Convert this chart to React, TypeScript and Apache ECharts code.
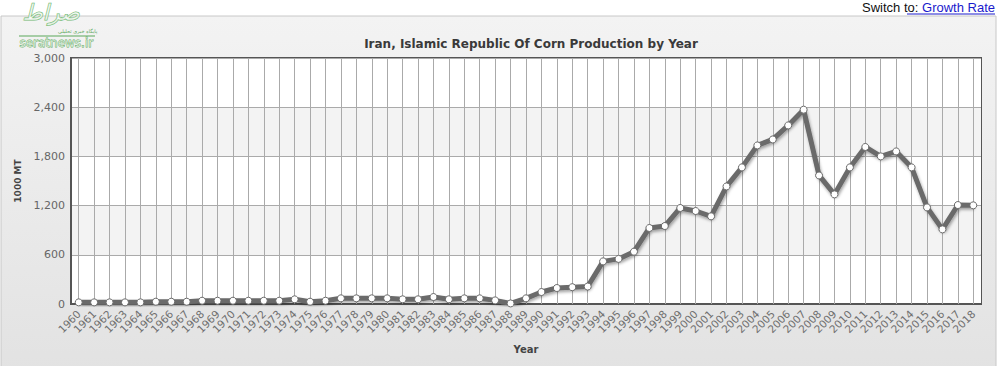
import React, { useEffect, useRef } from "react";
import * as echarts from "echarts";

const years: string[] = [];
for (let y = 1960; y <= 2018; y++) years.push(String(y));

const production: number[] = [
  20, 20, 20, 20, 20, 28, 28, 28, 40, 40,
  40, 40, 40, 40, 57, 28, 40, 69, 69, 69,
  69, 57, 57, 85, 57, 69, 69, 44, 7, 69,
  146, 195, 205, 213, 520, 550, 638, 927, 951, 1171,
  1134, 1069, 1434, 1666, 1934, 2007, 2178, 2370, 1568, 1337,
  1666, 1915, 1800, 1861, 1666, 1178, 910, 1207, 1203,
];

const yTicks = { min: 0, max: 3000, interval: 600 };
const title = "Iran, Islamic Republic Of Corn Production by Year";
const yName = "1000 MT";
const xName = "Year";

export default function App() {
  const ref = useRef<HTMLDivElement>(null);
  useEffect(() => {
    if (!ref.current) return;
    const chart = echarts.init(ref.current, undefined, { renderer: "svg" });
    const font = "DejaVu Sans, Verdana, sans-serif";
    chart.setOption({
      animation: false,
      backgroundColor: "#ffffff",
      title: {
        text: title,
        left: 526,
        top: 33,
        textAlign: "center",
        textStyle: { fontFamily: font, fontSize: 12, fontWeight: "bold", color: "#3a3a3a" },
      },
      grid: {
        left: 71,
        top: 58,
        width: 910,
        height: 246,
        show: true,
        borderColor: "#555",
        borderWidth: 2,
        backgroundColor: "transparent",
        containLabel: false,
      },
      xAxis: {
        type: "category",
        data: years,
        boundaryGap: true,
        name: xName,
        nameLocation: "middle",
        nameGap: 40,
        nameTextStyle: { fontFamily: font, fontSize: 10, fontWeight: "bold", color: "#444" },
        axisLine: { lineStyle: { color: "#555", width: 2 } },
        axisTick: { show: false },
        splitLine: { show: false },
        axisLabel: {
          interval: 0,
          rotate: 45,
          margin: 8,
          fontFamily: font,
          fontSize: 10.5,
          color: "#6e6e6e",
        },
      },
      yAxis: {
        type: "value",
        min: yTicks.min,
        max: yTicks.max,
        interval: yTicks.interval,
        name: yName,
        nameLocation: "middle",
        nameGap: 46,
        nameRotate: 90,
        nameTextStyle: { fontFamily: font, fontSize: 9, fontWeight: "bold", color: "#444" },
        axisLine: { show: true, lineStyle: { color: "#555", width: 2 } },
        axisTick: { show: false },
        axisLabel: {
          margin: 6,
          fontFamily: font,
          fontSize: 11,
          color: "#666",
          formatter: (v: number) => v.toLocaleString("en-US"),
        },
        splitLine: { show: true, lineStyle: { color: "#aaa", width: 1 } },
        splitArea: { show: true, areaStyle: { color: ["#ffffff", "#f3f3f3"] } },
      },
      graphic: [
        {
          type: "rect",
          z: -100,
          shape: { x: 1, y: 16, width: 995, height: 360 },
          style: {
            fill: new echarts.graphic.LinearGradient(0, 0, 0, 1, [
              { offset: 0, color: "#f3f3f3" },
              { offset: 1, color: "#e2e2e2" },
            ]),
            stroke: "#c8c8c8",
            lineWidth: 1,
          },
        },
        {
          type: "text",
          right: 8,
          top: 1,
          style: {
            text: "{a|Switch to: }{b|Growth Rate}",
            rich: {
              a: { fontFamily: "Liberation Sans, Arial", fontSize: 13, fill: "#111", color: "#111" },
              b: { fontFamily: "Liberation Sans, Arial", fontSize: 13, fill: "#1a1acc", color: "#1a1acc" },
            },
          },
        },
        {
          type: "line",
          shape: { x1: 907, y1: 14, x2: 995, y2: 14 },
          style: { stroke: "#1a1acc", lineWidth: 1 },
        },
        {
          type: "text",
          left: 22,
          top: 1,
          style: {
            text: "صراط",
            fontFamily: "DejaVu Sans",
            fontSize: 22,
            fontStyle: "italic",
            fill: "rgba(255,255,255,0.6)",
            stroke: "#6fb86f",
            lineWidth: 1,
          },
        },
        {
          type: "text",
          left: 58,
          top: 28,
          style: { text: "پایگاه خبری تحلیلی", fontFamily: "DejaVu Sans", fontSize: 5, fill: "#5aa85a" },
        },
        {
          type: "line",
          shape: { x1: 19, y1: 36, x2: 95, y2: 36 },
          style: { stroke: "#5aa85a", lineWidth: 1 },
        },
        {
          type: "text",
          left: 19,
          top: 37,
          style: {
            text: "seratnews.ir",
            fontFamily: "DejaVu Sans",
            fontSize: 12,
            fill: "rgba(255,255,255,0.7)",
            stroke: "#5aa85a",
            lineWidth: 0.8,
          },
        },
      ],
      series: [
        {
          type: "line",
          data: production,
          z: 1,
          symbol: "none",
          lineStyle: { opacity: 0 },
          silent: true,
          markLine: {
            silent: true,
            symbol: "none",
            label: { show: false },
            lineStyle: { color: "#aaa", width: 1, type: "solid" },
            data: years.map((y) => ({ xAxis: y })),
          },
        },
        {
          type: "line",
          data: production,
          z: 5,
          symbol: "circle",
          symbolSize: 7,
          showAllSymbol: true,
          lineStyle: {
            color: "#6a6a6a",
            width: 5,
            shadowColor: "rgba(0,0,0,0.35)",
            shadowBlur: 3,
            shadowOffsetX: 1,
            shadowOffsetY: 2,
          },
          itemStyle: { color: "#ffffff", borderColor: "#6a6a6a", borderWidth: 1 },
        },
      ],
    });
    return () => chart.dispose();
  }, []);
  return (
    <div
      ref={ref}
      style={{ position: "absolute", left: 0, top: 0, width: 1003, height: 366 }}
    />
  );
}
